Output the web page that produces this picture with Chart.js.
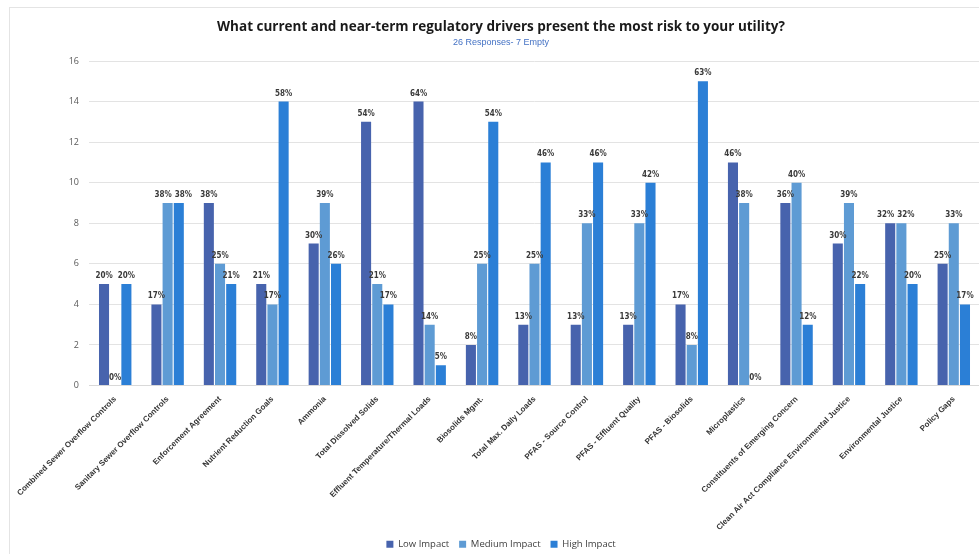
<!DOCTYPE html>
<html>
<head>
<meta charset="utf-8">
<script src="https://cdn.jsdelivr.net/npm/chart.js@4/dist/chart.umd.min.js"></script>
<style>
  html, body { margin: 0; padding: 0; background: #fff; overflow: hidden; }
  .card {
    position: absolute; left: 9px; top: 7px;
    width: 975px; height: 560px;
    border-left: 1px solid #e4e4e4; border-top: 1px solid #e4e4e4;
    background: #fff;
  }
  #chart { display: block; }
</style>
</head>
<body>
<div class="card"><canvas id="chart" width="970" height="551"></canvas></div>
<script>
// Survey: regulatory drivers by perceived impact
const categories = [
  'Combined Sewer Overflow Controls',
  'Sanitary Sewer Overflow Controls',
  'Enforcement Agreement',
  'Nutrient Reduction Goals',
  'Ammonia',
  'Total Dissolved Solids',
  'Effluent Temperature/Thermal Loads',
  'Biosolids Mgmt.',
  'Total Max. Daily Loads',
  'PFAS - Source Control',
  'PFAS - Effluent Quality',
  'PFAS - Biosolids',
  'Microplastics',
  'Constituents of Emerging Concern',
  'Clean Air Act Compliance Environmental Justice',
  'Environmental Justice',
  'Policy Gaps'
];

const lowImpact    = [5, 4, 9, 5, 7, 13, 14, 2, 3, 3, 3, 4, 11, 9, 7, 8, 6];
const mediumImpact = [0, 9, 6, 4, 9, 5, 3, 6, 6, 8, 8, 2, 9, 10, 9, 8, 8];
const highImpact   = [5, 9, 5, 14, 6, 4, 1, 13, 11, 11, 10, 15, 0, 3, 5, 5, 4];

// share of responses shown above each bar
const lowPct    = ['20%', '17%', '38%', '21%', '30%', '54%', '64%', '8%', '13%', '13%', '13%', '17%', '46%', '36%', '30%', '32%', '25%'];
const mediumPct = ['0%', '38%', '25%', '17%', '39%', '21%', '14%', '25%', '25%', '33%', '33%', '8%', '38%', '40%', '39%', '32%', '33%'];
const highPct   = ['20%', '38%', '21%', '58%', '26%', '17%', '5%', '54%', '46%', '46%', '42%', '63%', '0%', '12%', '22%', '20%', '17%'];

const yTicks = [0, 2, 4, 6, 8, 10, 12, 14, 16];

const pctLabels = [lowPct, mediumPct, highPct];

// percent labels above bars; labels at the same height in a group get pushed apart
const barLabels = {
  id: 'barLabels',
  afterDatasetsDraw(chart) {
    const ctx = chart.ctx;
    ctx.save();
    ctx.font = 'bold 8px "Liberation Sans Narrow", "DejaVu Sans Condensed", sans-serif';
    ctx.fillStyle = '#3a3a3a';
    ctx.textAlign = 'center';
    ctx.textBaseline = 'bottom';
    const metas = chart.data.datasets.map((ds, i) => chart.getDatasetMeta(i));
    categories.forEach((cat, j) => {
      const items = metas.map((meta, i) => {
        const bar = meta.data[j];
        const text = pctLabels[i][j];
        return { text, x: bar.x, y: bar.y - 4, w: ctx.measureText(text).width };
      });
      for (let k = 1; k < items.length; k++) {
        const a = items[k - 1], b = items[k];
        if (Math.abs(a.y - b.y) > 9) continue;
        const overlap = (a.x + a.w / 2 + 3) - (b.x - b.w / 2);
        if (overlap > 0) {
          a.x -= overlap / 2;
          b.x += overlap / 2;
        }
      }
      items.forEach(it => ctx.fillText(it.text, it.x, it.y));
    });
    ctx.restore();
  }
};

new Chart(document.getElementById('chart'), {
  type: 'bar',
  data: {
    labels: categories,
    datasets: [
      { label: 'Low Impact', data: lowImpact, backgroundColor: '#4763ad' },
      { label: 'Medium Impact', data: mediumImpact, backgroundColor: '#5e9bd4' },
      { label: 'High Impact', data: highImpact, backgroundColor: '#2b7fd6' }
    ]
  },
  options: {
    responsive: false,
    animation: false,
    devicePixelRatio: 1,
    layout: { padding: { left: 12, right: 0, top: 4, bottom: 0 } },
    datasets: { bar: { categoryPercentage: 0.64, barPercentage: 0.9 } },
    plugins: {
      title: {
        display: true,
        text: 'What current and near-term regulatory drivers present the most risk to your utility?',
        color: '#1a1a1a',
        font: { family: '"Open Sans", sans-serif', size: 13.5, weight: 'bold' },
        padding: { top: 7, bottom: 2 }
      },
      subtitle: {
        display: true,
        text: '26 Responses- 7 Empty',
        color: '#4472c4',
        font: { family: '"Liberation Sans Narrow", sans-serif', size: 9 },
        padding: { bottom: 13 }
      },
      legend: {
        position: 'bottom',
        labels: {
          boxWidth: 7, boxHeight: 7,
          color: '#404040',
          padding: 10,
          font: { family: '"Open Sans", sans-serif', size: 9.5 }
        }
      },
      tooltip: { enabled: false }
    },
    scales: {
      x: {
        grid: { display: false },
        border: { color: '#d9d9d9' },
        afterFit(axis) { axis.height = 144; },
        ticks: {
          autoSkip: false,
          padding: 1,
          minRotation: 45, maxRotation: 45,
          color: '#333333',
          font: { family: '"Liberation Sans Narrow", sans-serif', size: 8, weight: 'bold' }
        }
      },
      y: {
        min: 0, max: 16,
        afterBuildTicks(axis) { axis.ticks = yTicks.map(v => ({ value: v })); },
        afterFit(axis) { axis.width = 67; },
        grid: { color: '#e3e3e3', drawTicks: false },
        border: { display: false },
        ticks: {
          padding: 10,
          color: '#595959',
          font: { family: '"Open Sans", sans-serif', size: 9 }
        }
      }
    }
  },
  plugins: [barLabels]
});
</script>
</body>
</html>
